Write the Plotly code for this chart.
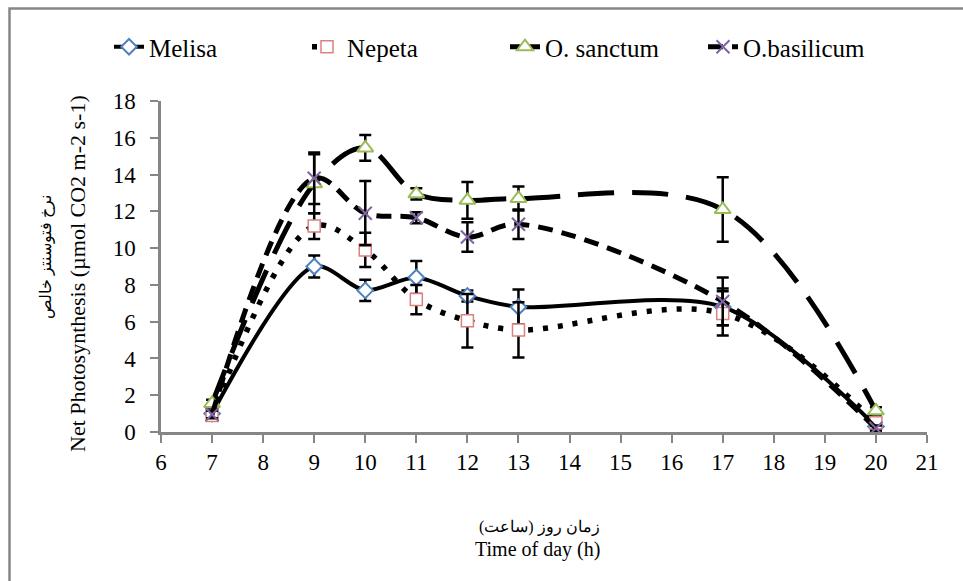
import plotly.graph_objects as go

hours = [7, 9, 10, 11, 12, 13, 17, 20]

melisa = [1.0, 9.0, 7.7, 8.4, 7.4, 6.8, 6.8, 0.3]
melisa_err = [0.2, 0.6, 0.58, 0.9, 0.3, 0.95, 1.0, 0.2]

nepeta = [0.9, 11.2, 9.9, 7.2, 6.05, 5.55, 6.45, 0.5]
nepeta_err = [0.2, 0.7, 0.93, 0.8, 1.45, 1.5, 1.2, 0.2]

sanctum = [1.55, 13.5, 15.45, 12.95, 12.6, 12.7, 12.1, 1.15]
sanctum_err = [0.2, 1.6, 0.7, 0.3, 1.0, 0.65, 1.75, 0.2]

basilicum = [0.95, 13.8, 11.9, 11.65, 10.6, 11.3, 7.1, 0.2]
basilicum_err = [0.2, 1.4, 1.75, 0.3, 0.8, 0.8, 1.3, 0.15]

x_title_fa = "زمان روز (ساعت)"
x_title_en = "Time of day (h)"
y_title_fa = "نرخ فتوسنتز خالص"
y_title_en = "Net Photosynthesis (µmol CO2 m-2 s-1)"

series = [
    ("Melisa", melisa, melisa_err, "solid", 4, 0.85, dict(symbol="diamond", size=12, color="white", line=dict(color="#4F81BD", width=2))),
    ("Nepeta", nepeta, nepeta_err, "5px,10px", 5.5, 1.0, dict(symbol="square", size=12, color="white", line=dict(color="#D9827F", width=1.5))),
    ("O. sanctum", sanctum, sanctum_err, "36px,18px", 5, 1.0, dict(symbol="triangle-up", size=14, color="white", line=dict(color="#9BBB59", width=2))),
    ("O.basilicum", basilicum, basilicum_err, "15px,9px", 5, 1.0, dict(symbol="x-thin", size=13, color="#8064A2", line=dict(color="#8064A2", width=2))),
]

fig = go.Figure()
for name, vals, errs, dash, lw, sm, marker in series:
    fig.add_trace(go.Scatter(
        x=hours, y=vals, name=name, mode="lines+markers",
        line=dict(color="black", width=lw, dash=dash, shape="spline", smoothing=sm),
        marker=marker,
        error_y=dict(type="data", array=errs, visible=True, color="black", thickness=2.5, width=6),
    ))

serif = "Liberation Serif"
axis_color = "#868686"

L, R, T, B = 161, 36, 101, 149
PW, PH = 963 - L - R, 581 - T - B


def px_x(p):
    return (p - L) / PW


def px_y(p):
    return (581 - B - p) / PH


fig.update_layout(
    width=963, height=581,
    margin=dict(l=L, r=R, t=T, b=B),
    paper_bgcolor="white", plot_bgcolor="white",
    font=dict(family=serif, color="black", size=23),
    showlegend=True,
    legend=dict(orientation="h", x=px_x(109), xanchor="left", y=px_y(47), yanchor="middle",
                font=dict(size=25, family=serif), entrywidth=153, entrywidthmode="pixels",
                bgcolor="rgba(0,0,0,0)"),
    xaxis=dict(range=[6, 21], tickmode="linear", tick0=6, dtick=1,
               showline=True, linecolor=axis_color, linewidth=2.5,
               ticks="outside", ticklen=8, tickcolor=axis_color, tickwidth=2,
               showgrid=False, zeroline=False, tickfont=dict(size=23, family=serif)),
    yaxis=dict(range=[0, 18], tickmode="linear", tick0=0, dtick=2,
               showline=True, linecolor=axis_color, linewidth=2.5,
               ticks="outside", ticklen=8, tickcolor=axis_color, tickwidth=2,
               ticklabelstandoff=10,
               showgrid=False, zeroline=False, tickfont=dict(size=23, family=serif)),
    annotations=[
        dict(text=x_title_fa, xref="paper", yref="paper", x=px_x(539), y=px_y(527),
             xanchor="center", yanchor="middle", showarrow=False, font=dict(size=16, family=serif)),
        dict(text=x_title_en, xref="paper", yref="paper", x=px_x(537), y=px_y(549),
             xanchor="center", yanchor="middle", showarrow=False, font=dict(size=20, family=serif)),
        dict(text=y_title_fa, xref="paper", yref="paper", x=px_x(46), y=px_y(257),
             xanchor="center", yanchor="middle", textangle=-90, showarrow=False,
             font=dict(size=16, family=serif)),
        dict(text=y_title_en, xref="paper", yref="paper", x=px_x(77), y=px_y(274),
             xanchor="center", yanchor="middle", textangle=-90, showarrow=False,
             font=dict(size=22, family=serif)),
    ],
    shapes=[
        dict(type="rect", xref="paper", yref="paper",
             x0=px_x(9.5), x1=px_x(975), y0=px_y(600), y1=px_y(8.5),
             line=dict(color=axis_color, width=2.5), fillcolor="rgba(0,0,0,0)", layer="below"),
    ],
)

fig.write_html("out.html")
